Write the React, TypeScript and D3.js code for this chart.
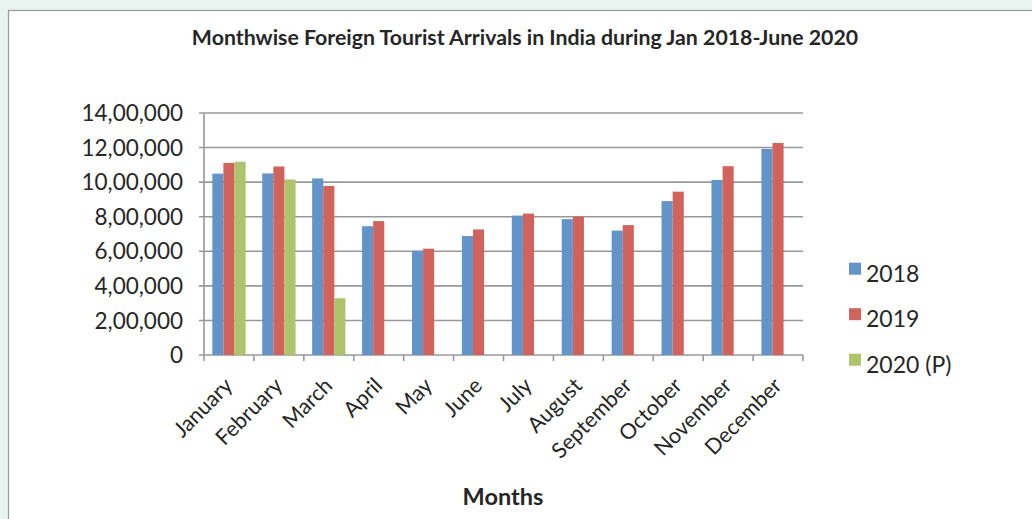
import React from "react";
import * as d3 from "d3";

const months = ["January","February","March","April","May","June","July","August","September","October","November","December"];
const series = ["2018", "2019", "2020 (P)"];
const values2018 = [1049259, 1050380, 1021539, 745033, 602537, 688134, 806493, 786003, 719964, 890232, 1012569, 1192498];
const values2019 = [1111040, 1090516, 978236, 774651, 615136, 726446, 818125, 800837, 751513, 945017, 1092440, 1226398];
const values2020 = [1118150, 1015632, 328304];
const yTicks = [0, 200000, 400000, 600000, 800000, 1000000, 1200000, 1400000];
const colors = ["#6293C9", "#D0645D", "#ADC46C"];
const title = "Monthwise Foreign Tourist Arrivals in India during Jan 2018-June 2020";
const xTitle = "Months";

const W = 1032, H = 519;
const plotL = 204, plotR = 803, plotT = 113, plotB = 355;
const FONT = "Lato, 'Open Sans', sans-serif";
const TEXT = "#262626";
const GRID = "#989898";

const indian = d3.formatLocale({ decimal: ".", thousands: ",", grouping: [3, 2], currency: ["", ""] }).format(",");

export default function App() {
  const x = d3.scaleBand<string>().domain(months).range([plotL, plotR]).paddingInner(0).paddingOuter(0);
  const xi = d3.scaleBand<string>().domain(series).range([0, x.bandwidth()]).paddingInner(0).paddingOuter(0.75);
  const y = d3.scaleLinear().domain([0, 1400000]).range([plotB, plotT]);
  const all = [values2018, values2019, values2020];

  return (
    <div style={{ position: "absolute", left: 0, top: 0 }}>
      <svg width={W} height={H} style={{ display: "block" }}>
        <rect x={0} y={0} width={W} height={H} fill="#E9F3EF" />
        <rect x={8.5} y={10.5} width={W} height={H} fill="#FFFFFF" stroke="#9A9A9A" strokeWidth={1.2} />
        <text x={525} y={45} textAnchor="middle" fontFamily={FONT} fontWeight={700} fontSize={21.3} fill={TEXT}>{title}</text>

        {yTicks.map((t) => (
          <g key={t}>
            <line x1={plotL - 5} x2={plotR} y1={y(t)} y2={y(t)} stroke={GRID} strokeWidth={1.6} />
            <text x={183} y={y(t)} dy="0.36em" textAnchor="end" fontFamily={FONT} fontSize={22.5} fill={TEXT}>{indian(t)}</text>
          </g>
        ))}
        <line x1={plotL} x2={plotL} y1={plotT} y2={plotB} stroke={GRID} strokeWidth={1.6} />
        {d3.range(months.length + 1).map((i) => {
          const xx = plotL + i * x.step();
          return <line key={i} x1={xx} x2={xx} y1={plotB} y2={plotB + 6} stroke={GRID} strokeWidth={1.6} />;
        })}

        {all.map((vals, si) =>
          vals.map((v, mi) => (
            <rect key={`${si}-${mi}`} x={(x(months[mi]) as number) + (xi(series[si]) as number)} y={y(v)} width={xi.bandwidth()} height={plotB - y(v)} fill={colors[si]} />
          ))
        )}

        {months.map((m) => {
          const cx = (x(m) as number) + x.bandwidth() / 2;
          return (
            <text key={m} transform={`translate(${cx + 5},${plotB + 32}) rotate(-45)`} textAnchor="end" fontFamily={FONT} fontSize={21.5} fill={TEXT}>{m}</text>
          );
        })}

        <text x={503} y={505} textAnchor="middle" fontFamily={FONT} fontWeight={700} fontSize={23.5} fill={TEXT}>{xTitle}</text>

        {series.map((s, i) => (
          <g key={s}>
            <rect x={849} y={262.7 + i * 45.5} width={12} height={12} fill={colors[i]} />
            <text x={866} y={281.7 + i * 45.5} fontFamily={FONT} fontSize={23} fill={TEXT}>{s}</text>
          </g>
        ))}
      </svg>
    </div>
  );
}
